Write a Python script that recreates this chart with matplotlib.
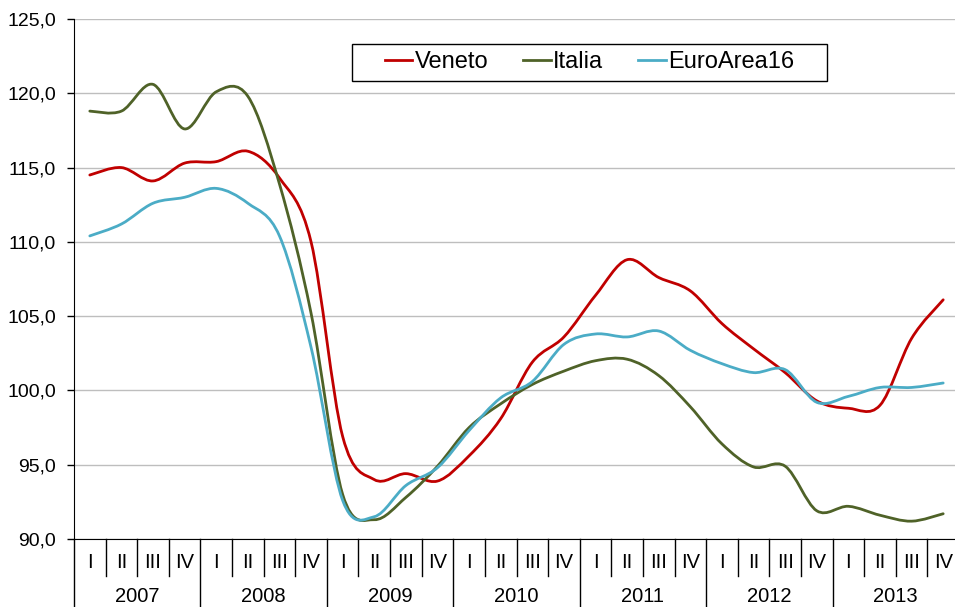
import numpy as np
import matplotlib
matplotlib.use("Agg")
import matplotlib.pyplot as plt
import matplotlib.transforms as mtransforms
from matplotlib.path import Path
from matplotlib.patches import PathPatch, Rectangle
from matplotlib.lines import Line2D

plt.rcParams["font.family"] = ["Liberation Sans", "DejaVu Sans"]

years = ["2007", "2008", "2009", "2010", "2011", "2012", "2013"]
quarters = ["I", "II", "III", "IV"]

veneto = [114.5, 115.0, 114.1, 115.3, 115.4, 116.1, 114.3, 110.0,
          96.9, 94.0, 94.4, 93.9, 95.6, 98.1, 101.9, 103.6,
          106.4, 108.8, 107.6, 106.7, 104.5, 102.8, 101.2, 99.3,
          98.8, 99.0, 103.5, 106.1]
italia = [118.8, 118.8, 120.6, 117.6, 120.1, 119.8, 113.9, 105.2,
          93.0, 91.3, 92.8, 94.9, 97.5, 99.1, 100.4, 101.3,
          102.0, 102.1, 101.0, 98.9, 96.4, 94.85, 94.9, 91.9,
          92.2, 91.6, 91.2, 91.7]
euroarea = [110.4, 111.2, 112.6, 113.0, 113.6, 112.6, 110.4, 102.9,
            92.6, 91.5, 93.6, 94.8, 97.3, 99.5, 100.6, 103.1,
            103.8, 103.6, 104.0, 102.7, 101.8, 101.2, 101.4, 99.2,
            99.6, 100.2, 100.2, 100.5]

series = [("Veneto", veneto, "#C00000"),
          ("Italia", italia, "#4F6228"),
          ("EuroArea16", euroarea, "#4BACC6")]


def smooth_path(xs, ys):
    # Bezier curve through the points, like the Excel smoothed line
    pts = np.column_stack([xs, ys]).astype(float)
    n = len(pts)
    verts = [pts[0]]
    codes = [Path.MOVETO]
    for i in range(n - 1):
        p0 = pts[max(i - 1, 0)]
        p1 = pts[i]
        p2 = pts[i + 1]
        p3 = pts[min(i + 2, n - 1)]
        verts += [p1 + (p2 - p0) / 6, p2 - (p3 - p1) / 6, p2]
        codes += [Path.CURVE4] * 3
    return Path(verts, codes)


W, H = 955, 607
fig = plt.figure(figsize=(W / 100, H / 100), dpi=100)
ax = fig.add_axes([74 / W, 1 - 539 / H, 885 / W, 520 / H])

n = len(veneto)
x = np.arange(n)
handles = []
for name, vals, col in series:
    patch = PathPatch(smooth_path(x, vals), facecolor="none", edgecolor=col,
                      lw=2.0, capstyle="round", joinstyle="round", zorder=3)
    ax.add_patch(patch)
    handles.append(Line2D([], [], color=col, lw=2.0, label=name))

ax.set_xlim(-0.5, n - 0.5)
ax.set_ylim(90, 125)
yt = np.arange(90, 126, 5)
ax.set_yticks(yt)
ax.set_yticklabels([f"{v:.1f}".replace(".", ",") for v in yt], fontsize=14)
ax.set_xticks([])
ax.tick_params(axis="y", length=5, width=1, pad=8, color="black")
ax.yaxis.grid(True, color="#BEBEBE", lw=1)
ax.set_axisbelow(True)
for s in ["top", "right"]:
    ax.spines[s].set_visible(False)
ax.spines["left"].set_color("black")
ax.spines["bottom"].set_color("black")

# category axis below the plot: quarters and years
tr = mtransforms.blended_transform_factory(ax.transData, ax.transAxes)
q_bot = (539 - 576) / 520
y_bot = (539 - H) / 520
for i in range(n):
    ax.text(i, (539 - 563) / 520, quarters[i % 4], transform=tr,
            ha="center", va="center", fontsize=14.5)
for b in range(n + 1):
    bottom = y_bot if b % 4 == 0 else q_bot
    ax.plot([b - 0.5, b - 0.5], [0, bottom], transform=tr, color="black",
            lw=1, clip_on=False)
for k, yr in enumerate(years):
    ax.text(4 * k + 1.5, (539 - 597) / 520, yr, transform=tr,
            ha="center", va="center", fontsize=14.5)

leg = ax.legend(handles=handles, loc="center", bbox_to_anchor=(0.5825, 0.9165),
                ncol=3, fontsize=17, frameon=False,
                handlelength=1.15, handletextpad=0.1, columnspacing=1.5)
# legend box
ax.add_patch(Rectangle(((352 - 74) / 885, (539 - 81) / 520), 475 / 885, 37 / 520,
                       transform=ax.transAxes, facecolor="white",
                       edgecolor="black", lw=1.0, zorder=4))
leg.set_zorder(5)

fig.savefig("out.png", dpi=100)
